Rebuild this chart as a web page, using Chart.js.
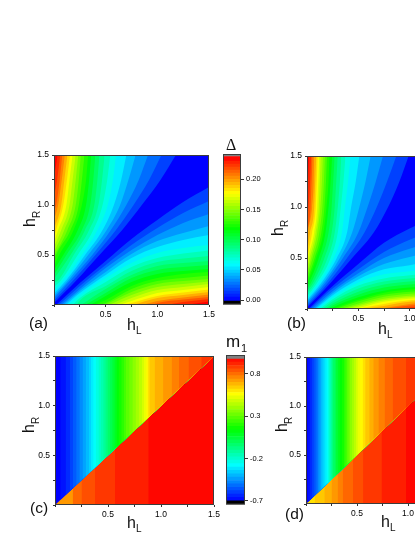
<!DOCTYPE html>
<html>
<head>
<meta charset="utf-8">
<title>Gap and magnetisation maps</title>
<script src="https://cdn.jsdelivr.net/npm/chart.js"></script>
<style>
html, body { margin: 0; padding: 0; width: 415px; height: 537px; overflow: hidden; background: #fff; }
canvas { position: absolute; filter: blur(0.35px); }
</style>
</head>
<body>
<script>
// axes
const plotMax = 1.5;
const gapBarTicks = [0, 0.05, 0.1, 0.15, 0.2];
const magBarTicks = [-0.7, -0.2, 0.3, 0.8];

// contour levels of the gap, panels (a) and (b)
const gapLevels = [0.01, 0.02, 0.03, 0.04, 0.05, 0.06, 0.07, 0.08, 0.09, 0.1, 0.11, 0.12, 0.13, 0.14, 0.15, 0.16, 0.17, 0.18, 0.19, 0.2, 0.21, 0.22, 0.23];
const contourRows = [0.25, 0.5, 0.75, 1, 1.25, 1.5];

// panel (a): where each level meets the left edge (hR), then its hL on each row
const aStart = [0.02, 0.045, 0.07, 0.09, 0.115, 0.14, 0.18, 0.22, 0.26, 0.3, 0.35, 0.39, 0.44, 0.49, 0.53, 0.58, 0.63, 0.68, 0.76, 0.85, 0.95, 1.08, 1.27];
const aRow025 = [0.22, 0.19, 0.16, 0.14, 0.12, 0.095, 0.07, 0.045];
const aRow050 = [0.44, 0.4, 0.37, 0.33, 0.3, 0.27, 0.23, 0.19, 0.16, 0.12, 0.09, 0.05, 0.02];
const aRow075 = [0.66, 0.6, 0.55, 0.51, 0.47, 0.42, 0.38, 0.34, 0.3, 0.27, 0.23, 0.19, 0.16, 0.13, 0.1, 0.07, 0.04, 0.02];
const aRow100 = [0.85, 0.77, 0.7, 0.64, 0.58, 0.52, 0.47, 0.43, 0.39, 0.35, 0.31, 0.27, 0.24, 0.21, 0.18, 0.15, 0.12, 0.09, 0.07, 0.04, 0.02];
const aRow125 = [1.03, 0.92, 0.82, 0.72, 0.65, 0.57, 0.515, 0.465, 0.42, 0.38, 0.34, 0.31, 0.27, 0.24, 0.21, 0.18, 0.15, 0.125, 0.1, 0.075, 0.055, 0.03];
const aRow150 = [1.18, 1.04, 0.91, 0.79, 0.7, 0.6, 0.545, 0.49, 0.44, 0.4, 0.36, 0.33, 0.295, 0.26, 0.235, 0.21, 0.18, 0.155, 0.13, 0.105, 0.08, 0.06, 0.035];

// panel (b)
const bStart = [0.015, 0.03, 0.05, 0.07, 0.085, 0.105, 0.125, 0.15, 0.175, 0.2, 0.225, 0.245, 0.28, 0.32, 0.36, 0.4, 0.44, 0.48, 0.55, 0.64, 0.74, 0.88, 1.1];
const bRow025 = [0.225, 0.2, 0.175, 0.155, 0.135, 0.115, 0.095, 0.075, 0.055, 0.035, 0.015];
const bRow050 = [0.44, 0.39, 0.35, 0.32, 0.29, 0.26, 0.23, 0.2, 0.17, 0.14, 0.115, 0.09, 0.075, 0.055, 0.04, 0.025, 0.01];
const bRow075 = [0.65, 0.56, 0.5, 0.44, 0.39, 0.34, 0.3, 0.27, 0.24, 0.21, 0.18, 0.16, 0.14, 0.12, 0.1, 0.085, 0.07, 0.05, 0.03, 0.01];
const bRow100 = [0.79, 0.68, 0.59, 0.51, 0.43, 0.37, 0.33, 0.3, 0.27, 0.24, 0.21, 0.19, 0.17, 0.15, 0.13, 0.115, 0.1, 0.085, 0.07, 0.05, 0.035, 0.015];
const bRow125 = [0.9, 0.78, 0.67, 0.57, 0.475, 0.4, 0.355, 0.32, 0.285, 0.255, 0.23, 0.21, 0.185, 0.165, 0.145, 0.125, 0.11, 0.095, 0.08, 0.065, 0.045, 0.03, 0.01];
const bRow150 = [0.99, 0.87, 0.74, 0.62, 0.51, 0.425, 0.375, 0.335, 0.3, 0.27, 0.245, 0.22, 0.195, 0.175, 0.155, 0.135, 0.12, 0.105, 0.09, 0.07, 0.055, 0.04, 0.02];

// panel (c): m1 bands, hL where each band starts
const cUpperValues = [-0.67, -0.63, -0.59, -0.55, -0.51, -0.47, -0.43, -0.39, -0.35, -0.31, -0.27, -0.23, -0.19, -0.15, -0.11, -0.07, -0.03, 0.01, 0.05, 0.09, 0.13, 0.17, 0.21, 0.25, 0.29, 0.33, 0.37, 0.41, 0.45, 0.49, 0.53, 0.57, 0.61, 0.65, 0.69, 0.73, 0.77, 0.81, 0.85, 0.89, 0.93];
const cUpperEdges = [0.05, 0.1, 0.14, 0.17, 0.2, 0.23, 0.26, 0.29, 0.32, 0.34, 0.36, 0.385, 0.41, 0.43, 0.455, 0.475, 0.495, 0.52, 0.54, 0.56, 0.58, 0.6, 0.625, 0.65, 0.67, 0.7, 0.73, 0.76, 0.79, 0.82, 0.84, 0.86, 0.875, 0.89, 0.94, 1.02, 1.1, 1.17, 1.26, 1.38, 1.49];
const cLowerValues = [0.73, 0.81, 0.85, 0.89, 0.93, 0.97];
const cLowerEdges = [0, 0.167, 0.25, 0.377, 0.566, 0.88];

// panel (d)
const dUpperValues = [-0.67, -0.63, -0.59, -0.55, -0.51, -0.47, -0.43, -0.39, -0.35, -0.31, -0.27, -0.23, -0.19, -0.15, -0.11, -0.07, -0.03, 0.01, 0.05, 0.09, 0.13, 0.17, 0.21, 0.25, 0.29, 0.33, 0.37, 0.41, 0.45, 0.49, 0.53, 0.57, 0.61, 0.65, 0.69, 0.73, 0.77, 0.81, 0.85, 0.89, 0.93];
const dUpperEdges = [0.02, 0.04, 0.06, 0.08, 0.1, 0.115, 0.13, 0.145, 0.16, 0.18, 0.2, 0.215, 0.225, 0.235, 0.245, 0.255, 0.265, 0.28, 0.295, 0.31, 0.33, 0.35, 0.37, 0.385, 0.4, 0.415, 0.43, 0.45, 0.47, 0.49, 0.505, 0.53, 0.555, 0.58, 0.62, 0.66, 0.71, 0.77, 0.85, 0.98, 1.14];
const dLowerValues = [0.61, 0.65, 0.69, 0.73, 0.77, 0.81, 0.85, 0.89, 0.93, 0.97];
const dLowerEdges = [0, 0.085, 0.18, 0.25, 0.31, 0.36, 0.46, 0.56, 0.74, 0.98];

// colour bars
const gapBarEdges = [-0.0016, 0.005, 0.01, 0.015, 0.02, 0.025, 0.03, 0.035, 0.04, 0.045, 0.05, 0.055, 0.06, 0.065, 0.07, 0.075, 0.08, 0.085, 0.09, 0.095, 0.1, 0.105, 0.11, 0.115, 0.12, 0.125, 0.13, 0.135, 0.14, 0.145, 0.15, 0.155, 0.16, 0.165, 0.17, 0.175, 0.18, 0.185, 0.19, 0.195, 0.2, 0.205, 0.21, 0.215, 0.22, 0.225, 0.23, 0.2375];
const magBarEdges = [-0.7, -0.66, -0.62, -0.58, -0.54, -0.5, -0.46, -0.42, -0.38, -0.34, -0.3, -0.26, -0.22, -0.18, -0.14, -0.1, -0.06, -0.02, 0.02, 0.06, 0.1, 0.14, 0.18, 0.22, 0.26, 0.3, 0.34, 0.38, 0.42, 0.46, 0.5, 0.54, 0.58, 0.62, 0.66, 0.7, 0.74, 0.78, 0.82, 0.86, 0.9, 0.94, 0.977];

const gapRange = [0, 0.235];
const magRange = [-0.7, 0.98];

// blue - cyan - green - yellow - red
function rainbow(value, range) {
    const t = Math.min(1, Math.max(0, (value - range[0]) / (range[1] - range[0]))) * 4;
    const seg = Math.min(3, Math.floor(t));
    const f = t - seg;
    let rgb;
    if (seg === 0) rgb = [0, f, 1];
    else if (seg === 1) rgb = [0, 1, 1 - f];
    else if (seg === 2) rgb = [f, 1, 0];
    else rgb = [1, 1 - f, 0];
    return `rgb(${rgb.map(c => Math.round(c * 255)).join(',')})`;
}

const framePlugin = {
    id: 'frame',
    beforeDatasetsDraw(chart, args, opts) {
        if (!opts.base) return;
        const a = chart.chartArea;
        chart.ctx.fillStyle = opts.base;
        chart.ctx.fillRect(a.left, a.top, a.width, a.height);
    },
    afterDraw(chart) {
        const a = chart.chartArea;
        const ctx = chart.ctx;
        ctx.save();
        ctx.strokeStyle = '#3c3c3c';
        ctx.lineWidth = 1;
        ctx.strokeRect(a.left + 0.5, a.top + 0.5, a.width - 1, a.height - 1);
        ctx.restore();
    }
};

// page coordinates, the offset of the canvas is taken away
const textPlugin = {
    id: 'pageText',
    afterDraw(chart, args, opts) {
        const ctx = chart.ctx;
        (opts.items || []).forEach(item => {
            ctx.save();
            ctx.translate(item[1] - opts.offsetX, item[2] - opts.offsetY);
            if (item[5]) ctx.rotate(-Math.PI / 2);
            ctx.font = `${item[3]}px ${item[4] || '"Liberation Sans"'}`;
            ctx.fillStyle = '#111';
            ctx.textAlign = 'left';
            ctx.textBaseline = 'alphabetic';
            ctx.fillText(item[0], 0, 0);
            ctx.restore();
        });
    }
};

function addCanvas(x, y, w, h) {
    const canvas = document.createElement('canvas');
    canvas.width = w;
    canvas.height = h;
    canvas.style.left = x + 'px';
    canvas.style.top = y + 'px';
    canvas.style.width = w + 'px';
    canvas.style.height = h + 'px';
    document.body.appendChild(canvas);
    return canvas;
}

function fillDataset(points, fill, color, smooth) {
    return {
        data: points,
        showLine: true,
        fill: fill,
        backgroundColor: color,
        borderWidth: 0,
        pointRadius: 0,
        cubicInterpolationMode: smooth ? 'monotone' : 'default'
    };
}

function contourDatasets(start, rows) {
    const sets = [];
    for (let i = gapLevels.length - 1; i >= 0; i--) {
        const upper = [{ x: 0, y: start[i] }];
        contourRows.forEach((row, k) => {
            if (rows[k][i] != null) upper.push({ x: rows[k][i], y: row });
        });
        const lower = upper.map(p => ({ x: p.y, y: p.x }));
        const color = rainbow(gapLevels[i] + 0.005, gapRange);
        sets.push(fillDataset(upper, 'end', color, true));
        sets.push(fillDataset(lower, 'start', color, true));
    }
    return sets;
}

function bandDatasets(values, edges, fill) {
    const sets = [];
    for (let i = values.length - 1; i >= 0; i--) {
        const points = [{ x: edges[i], y: edges[i] }, { x: plotMax, y: plotMax }];
        sets.push(fillDataset(points, fill, rainbow(values[i], magRange), false));
    }
    return sets;
}

function plotAxis(size, horizontal) {
    return {
        type: 'linear',
        min: 0,
        max: plotMax,
        grid: { drawOnChartArea: false, tickLength: 2, color: '#333' },
        border: { display: false },
        afterFit(scale) {
            if (horizontal) scale.height = size; else scale.width = size;
        },
        ticks: {
            stepSize: 0.25,
            autoSkip: false,
            maxRotation: 0,
            minRotation: 0,
            padding: 3,
            color: '#000',
            font: { family: '"Liberation Sans"', size: 8.5 },
            callback: v => (v > 0 && Number.isInteger(v * 2)) ? v.toFixed(1) : ''
        }
    };
}

function makePanel(area, datasets, base, texts) {
    const m = { left: 40, right: 16, top: 12, bottom: 32 };
    const canvasX = area.left - m.left;
    const canvasY = area.top - m.top;
    const w = area.width + m.left + m.right;
    const h = area.height + m.top + m.bottom;
    new Chart(addCanvas(canvasX, canvasY, w, h), {
        type: 'scatter',
        data: { datasets: datasets },
        plugins: [framePlugin, textPlugin],
        options: {
            responsive: false,
            animation: false,
            layout: { autoPadding: false, padding: { top: m.top, right: m.right, left: 0, bottom: 0 } },
            scales: { x: plotAxis(m.bottom, true), y: plotAxis(m.left, false) },
            plugins: {
                legend: { display: false },
                tooltip: { enabled: false },
                frame: { base: base },
                pageText: { items: texts, offsetX: canvasX, offsetY: canvasY }
            }
        }
    });
}

function makeColorBar(area, edges, range, ticks, digits, axisMin, axisMax, under, texts) {
    const m = { left: 4, right: 24, top: 24, bottom: 6 };
    const canvasX = area.left - m.left;
    const canvasY = area.top - m.top;
    const w = area.width + m.left + m.right;
    const h = area.height + m.top + m.bottom;
    const datasets = [{ data: [[axisMin, under]], backgroundColor: '#000' }];
    for (let i = 0; i < edges.length - 1; i++) {
        const mid = (edges[i] + edges[i + 1]) / 2;
        datasets.push({ data: [[edges[i], edges[i + 1]]], backgroundColor: rainbow(mid, range) });
    }
    datasets.push({ data: [[edges[edges.length - 1], axisMax]], backgroundColor: '#808080' });
    datasets.forEach(d => { d.grouped = false; d.barPercentage = 1; d.categoryPercentage = 1; });
    new Chart(addCanvas(canvasX, canvasY, w, h), {
        type: 'bar',
        data: { labels: [''], datasets: datasets },
        plugins: [framePlugin, textPlugin],
        options: {
            responsive: false,
            animation: false,
            layout: { autoPadding: false, padding: { top: m.top, left: m.left, bottom: m.bottom, right: 0 } },
            scales: {
                x: { display: false },
                y: {
                    position: 'right',
                    min: axisMin,
                    max: axisMax,
                    grid: { drawOnChartArea: false, tickLength: 3, color: '#333' },
                    border: { display: false },
                    afterFit(scale) { scale.width = m.right; },
                    afterBuildTicks(scale) { scale.ticks = ticks.map(v => ({ value: v })); },
                    ticks: {
                        padding: 2,
                        color: '#000',
                        font: { family: '"Liberation Sans"', size: 7.5 },
                        callback: v => v.toFixed(digits)
                    }
                }
            },
            plugins: {
                legend: { display: false },
                tooltip: { enabled: false },
                pageText: { items: texts, offsetX: canvasX, offsetY: canvasY }
            }
        }
    });
}

const blue = rainbow(0, gapRange);
const aRows = [aRow025, aRow050, aRow075, aRow100, aRow125, aRow150];
const bRows = [bRow025, bRow050, bRow075, bRow100, bRow125, bRow150];

makePanel({ left: 54, top: 155, width: 155, height: 150 }, contourDatasets(aStart, aRows), blue, [
    ['h', 35, 227, 16, null, true], ['R', 40, 218, 10, null, true],
    ['h', 127, 330, 16], ['L', 136, 334, 10],
    ['(a)', 29, 328, 15.5]
]);
makePanel({ left: 307, top: 156, width: 154, height: 153 }, contourDatasets(bStart, bRows), blue, [
    ['h', 283, 236, 16, null, true], ['R', 288, 227, 10, null, true],
    ['h', 378, 334, 16], ['L', 387, 338, 10],
    ['(b)', 287, 328, 15.5]
]);
makePanel({ left: 55, top: 356, width: 159, height: 149 },
    bandDatasets(cUpperValues, cUpperEdges, 'end').concat(bandDatasets(cLowerValues, cLowerEdges, 'start')),
    blue, [
    ['h', 34, 433, 16, null, true], ['R', 39, 424, 10, null, true],
    ['h', 127, 528, 16], ['L', 136, 532, 10],
    ['(c)', 30, 513, 15.5]
]);
makePanel({ left: 306, top: 357, width: 153, height: 147 },
    bandDatasets(dUpperValues, dUpperEdges, 'end').concat(bandDatasets(dLowerValues, dLowerEdges, 'start')),
    blue, [
    ['h', 287, 432, 16, null, true], ['R', 292, 424, 10, null, true],
    ['h', 381, 527, 16], ['L', 390, 531, 10],
    ['(d)', 285, 519, 15.5]
]);

makeColorBar({ left: 223, top: 154, width: 18, height: 151 }, gapBarEdges, gapRange, gapBarTicks, 2, -0.0071, 0.2417, -0.0016, [
    ['Δ', 226, 150, 16, '"Liberation Serif"']
]);
makeColorBar({ left: 226, top: 355, width: 19, height: 150 }, magBarEdges, magRange, magBarTicks, 1, -0.744, 1.024, -0.7, [
    ['m', 226, 347, 17], ['1', 241, 352, 11]
]);
</script>
</body>
</html>
